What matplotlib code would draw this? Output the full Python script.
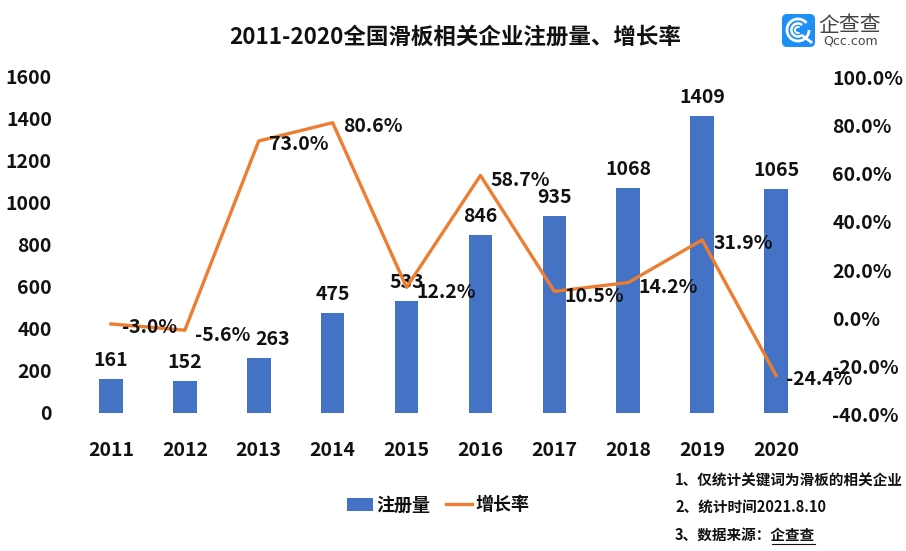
import matplotlib
matplotlib.use('Agg')
import matplotlib.pyplot as plt
from matplotlib.patches import FancyBboxPatch, Arc
from matplotlib.transforms import ScaledTranslation

plt.rcParams['font.family'] = ['Noto Sans CJK SC', 'DejaVu Sans']
plt.rcParams['font.weight'] = 'bold'

W = 906
H = 551

years = ['2011', '2012', '2013', '2014', '2015', '2016', '2017', '2018', '2019', '2020']
counts = [161, 152, 263, 475, 533, 846, 935, 1068, 1409, 1065]
growth = [-3.0, -5.6, 73.0, 80.6, 12.2, 58.7, 10.5, 14.2, 31.9, -24.4]
growth_labels = ['-3.0%', '-5.6%', '73.0%', '80.6%', '12.2%', '58.7%', '10.5%', '14.2%', '31.9%', '-24.4%']
# label offsets in pixels from the point
growth_offsets = [(39, -4), (38, -5), (40, -4), (40, -4), (40, -5), (40, -5), (40, -5), (40, -5), (41, -4), (43, -4)]
# 263 sits to the right of its bar in the original
count_dx = [0, 0, 14, 0, 0, 0, 0, 0, 0, 0]

fig = plt.figure(figsize=(W / 100, H / 100), dpi=100)
ax = fig.add_axes([74 / W, 1 - 413 / H, 739 / W, 337 / H])
x = list(range(len(years)))

bars = ax.bar(x, counts, width=0.32, color='#4472C4', label='注册量', zorder=2)
ax.set_xlim(-0.5, 9.5)
ax.set_ylim(0, 1600)
ax.set_yticks(range(0, 1601, 200))
ax.set_xticks(x)
ax.set_xticklabels(years)
ax.tick_params(axis='both', length=0, labelsize=14, colors='#111111')
ax.tick_params(axis='x', pad=20)
ax.tick_params(axis='y', pad=16)
for s in ax.spines.values():
    s.set_visible(False)

for i in x:
    ax.annotate(str(counts[i]), (i, counts[i]), xytext=(count_dx[i], 9), textcoords='offset pixels',
                ha='center', va='bottom', fontsize=14, color='#111111', zorder=5)

ax2 = ax.twinx()
line, = ax2.plot(x, growth, color='#ED7D31', lw=2.4, label='增长率', zorder=3)
ax2.set_ylim(-40, 100)
ax2.set_yticks(range(-40, 101, 20))
ax2.set_yticklabels([f'{v}.0%' for v in range(-40, 101, 20)])
ax2.tick_params(axis='y', length=0, labelsize=14, colors='#111111', pad=14)
for s in ax2.spines.values():
    s.set_visible(False)
# right tick labels sit a bit lower than the left ones
for lab in ax2.get_yticklabels():
    lab.set_transform(lab.get_transform() + ScaledTranslation(0, -1.5 / 100, fig.dpi_scale_trans))

for i in x:
    ax2.annotate(growth_labels[i], (i, growth[i]), xytext=growth_offsets[i], textcoords='offset pixels',
                 ha='center', va='center', fontsize=14, color='#111111', zorder=5)

fig.text(455.5 / W, 1 - 37 / H, '2011-2020全国滑板相关企业注册量、增长率', ha='center', va='center',
         fontsize=16.2, color='#111111')

fig.legend(handles=[bars, line], loc='center', bbox_to_anchor=(438 / W, 1 - 505 / H), ncol=2,
           frameon=False, fontsize=13, handlelength=1.45, handleheight=0.7, columnspacing=0.85,
           handletextpad=0.2, labelcolor='#111111')

# notes, bottom right
fig.text(675 / W, 1 - 480.5 / H, '1、仅统计关键词为滑板的相关企业', va='center', fontsize=10.5, color='#111111')
fig.text(675 / W, 1 - 507 / H, '2、统计时间2021.8.10', va='center', fontsize=10.5, color='#111111')
fig.text(675 / W, 1 - 535 / H, '3、数据来源：企查查', va='center', fontsize=10.5, color='#111111')

# overlay in pixel coordinates for the logo and the link underline
logo = fig.add_axes([0, 0, 1, 1], facecolor='none')
logo.set_xlim(0, W)
logo.set_ylim(H, 0)
logo.axis('off')
logo.plot([772, 815], [544, 544], color='#111111', lw=0.8)
logo.add_patch(FancyBboxPatch((782, 14), 33, 33, boxstyle='round,pad=0,rounding_size=5', fc='#1E90F5', ec='none'))
logo.add_patch(Arc((798, 30), 22, 22, theta1=0, theta2=320, ec='white', lw=2))
logo.add_patch(Arc((798, 30), 13, 13, theta1=50, theta2=310, ec='white', lw=1.8))
logo.add_patch(Arc((798, 30), 6, 6, theta1=60, theta2=300, ec='white', lw=1.4))
logo.plot([803, 811], [36, 42], color='white', lw=2)
logo.text(850, 25, '企查查', ha='center', va='center', fontsize=15, color='#444444', fontweight='normal')
logo.text(851, 41.5, 'Qcc.com', ha='center', va='center', fontsize=9, color='#444444', fontweight='normal',
          family='DejaVu Sans')

fig.savefig('out.png', dpi=100)
